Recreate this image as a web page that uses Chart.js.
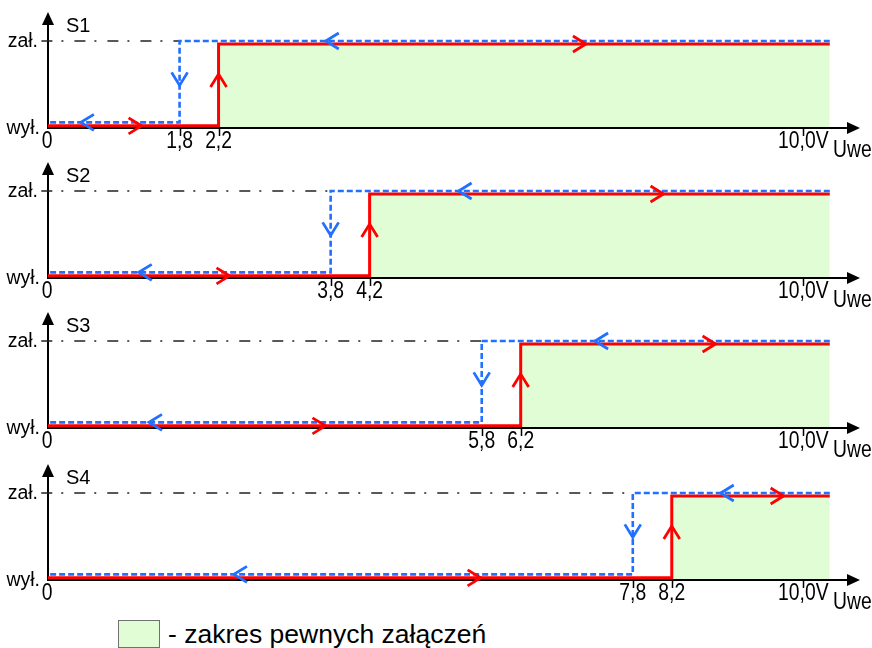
<!DOCTYPE html>
<html>
<head>
<meta charset="utf-8">
<script src="https://cdn.jsdelivr.net/npm/chart.js@4.4.0/dist/chart.umd.min.js"></script>
<style>
  body { margin: 0; background: #fff; width: 872px; height: 648px; position: relative; overflow: hidden; font-family: 'Liberation Sans', Arial, sans-serif; }
  canvas { position: absolute; left: 0; }
  #legendBox { position: absolute; left: 118px; top: 620px; width: 42px; height: 28px; background: #e1fdd5; border: 1px solid #707070; box-sizing: border-box; }
  #legendText { position: absolute; left: 168px; top: 621px; font-size: 26.5px; line-height: 26px; color: #000; white-space: nowrap; }
</style>
</head>
<body>
<div id="legendBox"></div>
<div id="legendText">- zakres pewnych załączeń</div>
<script>
// switch names and thresholds (V)
const panelNames = ['S1', 'S2', 'S3', 'S4'];
const offThresholds = [1.8, 3.8, 5.8, 7.8];   // blue: switching off when falling
const onThresholds = [2.2, 4.2, 6.2, 8.2];    // red: switching on when rising
const offLabels = ['1,8', '3,8', '5,8', '7,8'];
const onLabels = ['2,2', '4,2', '6,2', '8,2'];
const fullScale = 10;
const fullScaleLabel = '10,0V';
const xEnd = 10.35;

// output levels (wył. = 0, zał. = 1)
const redOff = 0.025, redOn = 0.965;
const blueOff = 0.065, blueOn = 1;

// direction marks along the curves
const blueLowArrow = [0.45, 1.22, 1.35, 2.48];
const redLowArrow = [1.28, 2.44, 3.71, 5.77];
const blueTopArrow = [3.63, 5.39, 7.2, 8.87];
const redTopArrow = [7.1, 8.13, 8.82, 9.73];
const blueDownTip = 0.49;
const redUpTip = 0.62;

const RED = '#ff0000';
const BLUE = '#2270ff';
const GREEN = '#e1fdd5';
const FONT = "'Liberation Sans', Arial, sans-serif";
const panelTops = [0, 150, 300, 452];

// the drawing is schematic: the hysteresis band is widened around its centre
class WarpScale extends Chart.LinearScale {
    warp(v) {
        const c = this.options.warpCenter, g = this.options.warpHalf, s = this.options.warpShift;
        if (c === undefined) return v;
        if (v <= c - g) return v - s * (v / (c - g));
        if (v < c + g) return c + (v - c) * (g + s) / g;
        const t = Math.max(0, (fullScale - v) / (fullScale - c - g));
        return v + s * t;
    }
    getPixelForValue(value) {
        return super.getPixelForValue(this.warp(value));
    }
}
WarpScale.id = 'warp';
WarpScale.defaults = Chart.LinearScale.defaults;
Chart.register(WarpScale);

function text(ctx, str, x, y, size, align, narrow) {
    ctx.save();
    ctx.font = size + 'px ' + FONT;
    ctx.fillStyle = '#000';
    ctx.textBaseline = 'alphabetic';
    const k = narrow ? 0.84 : 1;
    const w = ctx.measureText(str).width * k;
    let left = x;
    if (align === 'center') left = x - w / 2;
    if (align === 'right') left = x - w;
    ctx.translate(left, y);
    ctx.scale(k, 1);
    ctx.fillText(str, 0, 0);
    ctx.restore();
}

function chevron(ctx, x, y, dir, color) {
    const len = 13, half = 8;
    ctx.save();
    ctx.strokeStyle = color;
    ctx.lineWidth = 2.8;
    ctx.beginPath();
    if (dir === 'right') { ctx.moveTo(x - len, y - half); ctx.lineTo(x, y); ctx.lineTo(x - len, y + half); }
    if (dir === 'left') { ctx.moveTo(x + len, y - half); ctx.lineTo(x, y); ctx.lineTo(x + len, y + half); }
    if (dir === 'up') { ctx.moveTo(x - half, y + len); ctx.lineTo(x, y); ctx.lineTo(x + half, y + len); }
    if (dir === 'down') { ctx.moveTo(x - half, y - len); ctx.lineTo(x, y); ctx.lineTo(x + half, y - len); }
    ctx.stroke();
    ctx.restore();
}

function makePanel(i) {
    const canvas = document.createElement('canvas');
    canvas.width = 872;
    canvas.height = 165;
    canvas.style.top = panelTops[i] + 'px';
    document.body.appendChild(canvas);

    const off = offThresholds[i];
    const on = onThresholds[i];

    const axesPlugin = {
        id: 'axes' + i,
        afterDatasetDraw(chart, args) {
            if (args.index !== 3) return;
            const ctx = chart.ctx;
            const ca = chart.chartArea;
            const x0 = chart.scales.x.getPixelForValue(0);
            const y0 = chart.scales.y.getPixelForValue(0);
            ctx.save();
            ctx.strokeStyle = '#000';
            ctx.fillStyle = '#000';
            ctx.lineWidth = 2;
            ctx.beginPath();
            ctx.moveTo(x0, y0);
            ctx.lineTo(x0, ca.top + 10);
            ctx.moveTo(x0 - 1, y0);
            ctx.lineTo(ca.right - 10, y0);
            ctx.stroke();
            // arrow heads
            ctx.beginPath();
            ctx.moveTo(x0, ca.top);
            ctx.lineTo(x0 - 6, ca.top + 13);
            ctx.lineTo(x0 + 6, ca.top + 13);
            ctx.closePath();
            ctx.fill();
            ctx.beginPath();
            ctx.moveTo(ca.right, y0);
            ctx.lineTo(ca.right - 13, y0 - 6);
            ctx.lineTo(ca.right - 13, y0 + 6);
            ctx.closePath();
            ctx.fill();
            // ticks
            ctx.lineWidth = 1.5;
            ctx.beginPath();
            [off, on, fullScale].forEach(v => {
                const px = Math.round(chart.scales.x.getPixelForValue(v)) + 0.5;
                ctx.moveTo(px, y0);
                ctx.lineTo(px, y0 + 8);
            });
            ctx.stroke();
            ctx.restore();
        },
        afterDatasetsDraw(chart) {
            const ctx = chart.ctx;
            const xs = chart.scales.x, ys = chart.scales.y;
            const y0 = ys.getPixelForValue(0);
            const yOn = ys.getPixelForValue(blueOn);

            chevron(ctx, xs.getPixelForValue(blueLowArrow[i]), ys.getPixelForValue(blueOff), 'left', BLUE);
            chevron(ctx, xs.getPixelForValue(redLowArrow[i]), ys.getPixelForValue(redOff), 'right', RED);
            chevron(ctx, xs.getPixelForValue(blueTopArrow[i]), ys.getPixelForValue(blueOn), 'left', BLUE);
            chevron(ctx, xs.getPixelForValue(redTopArrow[i]), ys.getPixelForValue(redOn), 'right', RED);
            chevron(ctx, xs.getPixelForValue(off), ys.getPixelForValue(blueDownTip), 'down', BLUE);
            chevron(ctx, xs.getPixelForValue(on), ys.getPixelForValue(redUpTip), 'up', RED);

            text(ctx, panelNames[i], 66, y0 - 96, 20, 'left', false);
            text(ctx, 'zał.', 38, yOn + 6, 19.5, 'right', false);
            text(ctx, 'wył.', 40, y0 + 6, 19.5, 'right', false);
            text(ctx, '0', xs.getPixelForValue(0) - 1, y0 + 20, 23, 'center', true);
            text(ctx, offLabels[i], xs.getPixelForValue(off), y0 + 20, 23, 'center', true);
            text(ctx, onLabels[i], xs.getPixelForValue(on), y0 + 20, 23, 'center', true);
            text(ctx, fullScaleLabel, xs.getPixelForValue(fullScale), y0 + 20, 23, 'center', true);
            text(ctx, 'Uwe', 833, y0 + 29, 23, 'left', true);
        }
    };

    new Chart(canvas, {
        type: 'line',
        data: {
            datasets: [
                {
                    label: 'off',
                    data: [{x: xEnd, y: blueOn}, {x: off, y: blueOn}, {x: off, y: blueOff}, {x: 0, y: blueOff}],
                    borderColor: BLUE, borderWidth: 2.6, borderDash: [6, 3], fill: false, clip: false
                },
                {
                    label: 'on',
                    data: [{x: 0, y: redOff}, {x: on, y: redOff}, {x: on, y: redOn}, {x: xEnd, y: redOn}],
                    borderColor: RED, borderWidth: 3, fill: false, clip: false
                },
                {
                    label: 'level',
                    data: [{x: -0.09, y: blueOn}, {x: off, y: blueOn}],
                    borderColor: '#222', borderWidth: 1.3, borderDash: [11, 9, 2, 11], fill: false, clip: false
                },
                {
                    label: 'zone',
                    data: [{x: on, y: redOn}, {x: xEnd, y: redOn}],
                    borderWidth: 0, borderColor: 'rgba(0,0,0,0)', backgroundColor: GREEN, fill: 'origin'
                }
            ]
        },
        options: {
            responsive: false,
            animation: false,
            events: [],
            layout: { padding: { left: 48, right: 12, top: 12, bottom: 37 } },
            elements: { point: { radius: 0 }, line: { tension: 0 } },
            plugins: { legend: { display: false }, tooltip: { enabled: false } },
            scales: {
                x: { type: 'warp', min: 0, max: 10.75, display: false,
                     warpCenter: (off + on) / 2, warpHalf: (on - off) / 2, warpShift: 0.058 },
                y: { type: 'linear', min: 0, max: 116 / 87, display: false }
            }
        },
        plugins: [axesPlugin]
    });
}

panelNames.forEach((name, i) => makePanel(i));
</script>
</body>
</html>
